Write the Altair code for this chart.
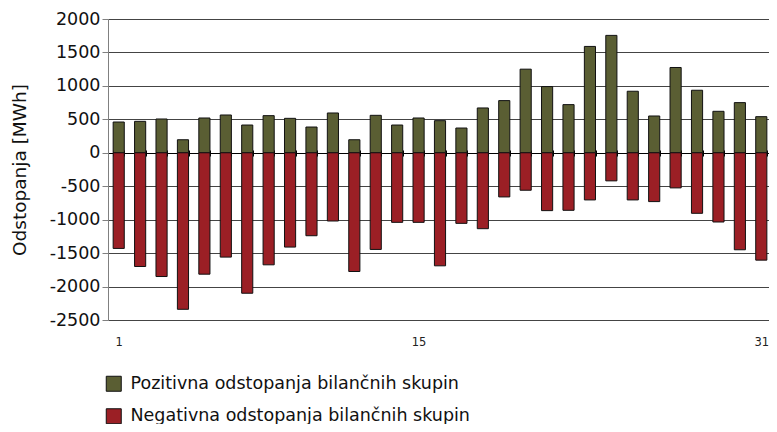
import altair as alt
import pandas as pd

days = list(range(1, 32))
positive = [460, 470, 505, 195, 520, 565, 415, 555, 515, 385, 595, 195, 560, 415, 520,
            480, 370, 670, 780, 1250, 990, 720, 1590, 1755, 920, 550, 1275, 935, 620, 750, 540]
negative = [-1430, -1700, -1850, -2340, -1815, -1560, -2100, -1675, -1410, -1240, -1020, -1775, -1445, -1040, -1040,
            -1690, -1055, -1135, -660, -560, -865, -860, -705, -420, -705, -730, -525, -905, -1035, -1450, -1605]
series = ["Pozitivna odstopanja bilančnih skupin", "Negativna odstopanja bilančnih skupin"]
colors = ["#5a5e33", "#9b1f25"]
y_ticks = [-2500, -2000, -1500, -1000, -500, 0, 500, 1000, 1500, 2000]
x_labels = ["1", "15", "31"]

df = pd.DataFrame({
    "day": days + days,
    "value": positive + negative,
    "series": [series[0]] * len(days) + [series[1]] * len(days),
})

FONT = "DejaVu Sans"
label_test = "indexof(" + str(x_labels).replace(" ", "") + ", datum.label) >= 0 ? datum.label : ''"

x_scale = alt.Scale(paddingInner=0.48, paddingOuter=0.24)
y_enc = alt.Y("value:Q", stack=None,
              scale=alt.Scale(domain=[-2500, 2000], nice=False, zero=False),
              axis=alt.Axis(values=y_ticks, title="Odstopanja [MWh]",
                            titleFontSize=18.5, titleFontWeight="normal", titleFont=FONT,
                            titleColor="#111111", titlePadding=20,
                            labelFontSize=17.5, labelFont=FONT, labelColor="#111111",
                            labelExpr="toString(datum.value)", labelPadding=2,
                            domainColor="#808080", tickColor="#808080", tickSize=6,
                            gridColor="#444444", gridWidth=1))

bars = alt.Chart(df).mark_bar(stroke="#111111", strokeWidth=1, opacity=1).encode(
    x=alt.X("day:O", sort=days, scale=x_scale,
            axis=alt.Axis(title=None, orient="bottom", offset=-167, labelAngle=0,
                          domainColor="#000000", domainWidth=1,
                          tickColor="#000000", tickSize=3, tickBand="extent",
                          labelPadding=180, labelFontSize=11.5, labelColor="#222222",
                          labelFont=FONT, labelExpr=label_test, grid=False)),
    y=y_enc,
    color=alt.Color("series:N",
                    scale=alt.Scale(domain=series, range=colors),
                    legend=alt.Legend(title=None, orient="none", legendX=-3, legendY=356,
                                      direction="vertical", symbolType="square",
                                      symbolSize=225, symbolStrokeColor="#111111",
                                      symbolStrokeWidth=1, symbolOpacity=1,
                                      labelFontSize=17.5, labelFont=FONT, labelColor="#111111",
                                      labelOffset=8, rowPadding=12.5, padding=0,
                                      labelLimit=600)),
)

upper_ticks = alt.Chart(df).mark_bar(opacity=0).encode(
    x=alt.X("day:O", sort=days, scale=x_scale,
            axis=alt.Axis(title=None, orient="top", offset=-134, labels=False,
                          domain=False, tickColor="#000000", tickSize=3,
                          tickBand="extent", grid=False)),
    y=y_enc,
)

chart = alt.layer(bars, upper_ticks).resolve_axis(x="independent").properties(
    width=664, height=301,
    autosize=alt.AutoSizeParams(type="none"),
    padding={"left": 100, "top": 11, "right": -3, "bottom": 104},
).configure_view(stroke=None).configure(font=FONT)

chart.save("out.html", embed_options={"renderer": "svg", "actions": False})
